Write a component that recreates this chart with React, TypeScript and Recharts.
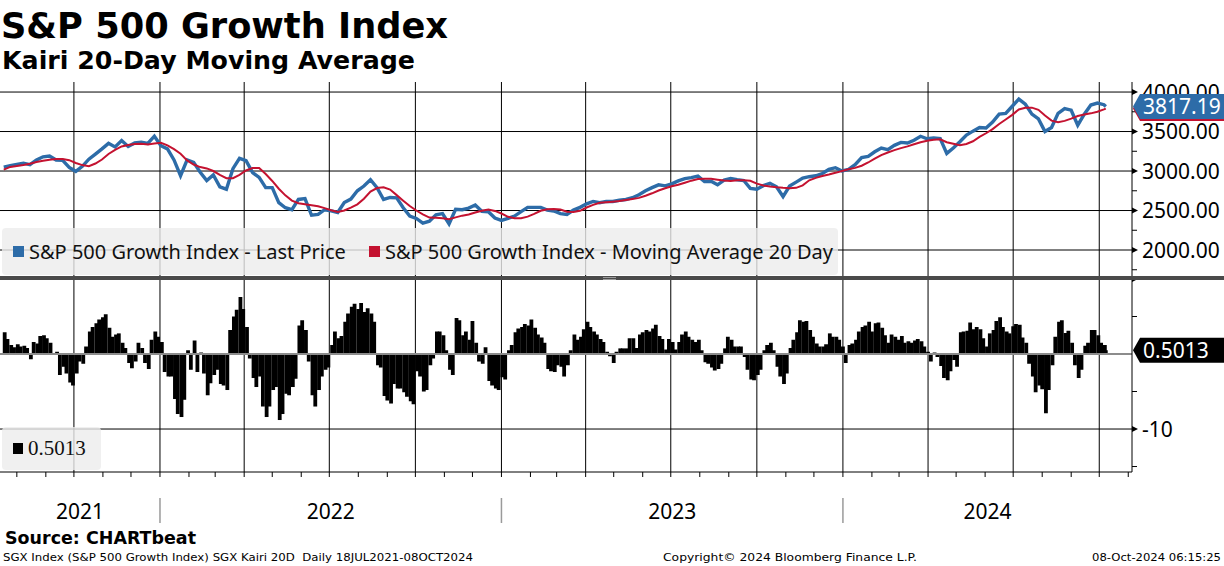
import React from 'react';
import { ComposedChart, Line, Bar, XAxis, YAxis, CartesianGrid, ReferenceLine, Legend } from 'recharts';

// ---------- data ----------
const START = '2021-07-18'; // first weekly sample (Sunday); kairi samples are Mon/Thu
const LAST_DATE = '2024-10-08';
const VIEW_START = '2021-07-14';
const VIEW_END = '2024-11-05';

const PRICE_WEEKLY = [
  3050, 3068, 3085, 3100, 3080, 3140, 3180, 3190, 3140, 3135,
  3045, 2996, 3060, 3150, 3215, 3280, 3350, 3305, 3385, 3310,
  3356, 3365, 3350, 3441, 3320, 3280, 3140, 2940, 3140, 3110,
  2985, 2880, 2950, 2800, 2770, 3030, 3160, 3130, 2980, 2920,
  2790, 2790, 2600, 2535, 2510, 2640, 2650, 2440, 2450, 2510,
  2495, 2475, 2600, 2645, 2750, 2810, 2890, 2790, 2640, 2665,
  2660, 2535, 2430, 2400, 2340, 2365, 2445, 2460, 2330, 2515,
  2510, 2530, 2570, 2490, 2485, 2405, 2375, 2400, 2430, 2485,
  2540, 2540, 2540, 2505, 2494, 2460, 2450, 2505, 2540, 2585,
  2615, 2599, 2615, 2615, 2630, 2640, 2662, 2700, 2750, 2790,
  2825, 2812, 2838, 2875, 2903, 2916, 2935, 2868, 2870, 2825,
  2885, 2905, 2890, 2880, 2780, 2770, 2815, 2845, 2800, 2677,
  2810, 2860, 2910, 2928, 2940, 2968, 3020, 3042, 3000, 3020,
  3080, 3170, 3185, 3244, 3290, 3270, 3325, 3362, 3355, 3390,
  3440, 3408, 3418, 3410, 3223, 3292, 3370, 3455, 3505, 3550,
  3545, 3620, 3720, 3730, 3820, 3910, 3845, 3720, 3660, 3500,
  3550, 3730, 3790, 3770, 3580, 3720, 3835, 3860, 3840,
];

const MA20_WEEKLY = [
  3018, 3052, 3063, 3077, 3093, 3113, 3130, 3144, 3152, 3151,
  3137, 3102, 3075, 3061, 3095, 3146, 3216, 3268, 3311, 3330,
  3341, 3345, 3337, 3348, 3358, 3325, 3277, 3219, 3135, 3082,
  3050, 3033, 3000, 2952, 2910, 2910, 2951, 3007, 3038, 3038,
  2962, 2874, 2776, 2692, 2625, 2592, 2579, 2568, 2554, 2530,
  2504, 2482, 2500, 2537, 2578, 2650, 2740, 2785, 2795, 2765,
  2695, 2625, 2557, 2500, 2452, 2411, 2409, 2403, 2390, 2413,
  2435, 2449, 2475, 2498, 2512, 2495, 2462, 2420, 2403, 2402,
  2423, 2458, 2497, 2516, 2520, 2512, 2484, 2480, 2496, 2538,
  2571, 2599, 2605, 2612, 2620, 2633, 2647, 2660, 2687, 2718,
  2753, 2782, 2808, 2827, 2852, 2878, 2898, 2903, 2901, 2890,
  2880, 2874, 2883, 2884, 2877, 2840, 2816, 2803, 2794, 2787,
  2782, 2787, 2819, 2883, 2913, 2937, 2956, 2977, 3000, 3022,
  3040, 3067, 3108, 3156, 3202, 3235, 3264, 3290, 3312, 3338,
  3365, 3383, 3396, 3401, 3365, 3346, 3328, 3342, 3377, 3431,
  3478, 3530, 3595, 3652, 3711, 3780, 3802, 3802, 3775, 3703,
  3638, 3619, 3635, 3663, 3696, 3716, 3730, 3750, 3780,
];

const LAST_PRICE = 3817.19;
const LAST_MA = 3791;

// Kairi 20D (%) sampled Monday / Thursday
const KAIRI_MON_THU = [
  2.9, 2.0, 1.2, 0.9, 1.3, 1.0, 1.1, 0.8, -0.7, 1.6,
  1.4, 2.4, 2.5, 2.1, 1.5, 0.1, 0.3, -2.8, -1.7, -2.6,
  -3.8, -4.2, -2.6, -1.0, -1.3, 1.0, 3.0, 3.6, 4.1, 4.6,
  4.9, 5.3, 3.5, 2.3, 2.6, 2.75, 1.5, 0.8, -1.2, -1.9,
  -1.0, 1.5, 0.8, -1.2, -2.0, 1.9, 3.0, 2.3, 1.6, -2.4,
  -3.0, -3.0, -6.0, -8.0, -8.4, -6.1, 0.5, -2.1, 1.8, -2.4,
  0.2, -2.6, -5.5, -3.9, -2.8, -2.1, -4.0, -4.2, -4.8, 3.2,
  5.0, 5.9, 7.6, 6.0, 3.6, -0.6, -3.2, -4.4, -3.0, -7.0,
  -8.4, -7.0, -4.8, -4.4, -8.8, -8.0, -5.3, -5.5, -4.4, -3.3,
  3.8, 4.5, 3.2, -1.0, -5.5, -7.0, -4.8, -3.0, -2.1, -1.8,
  1.2, 3.0, 2.1, 2.4, 4.3, 5.4, 6.3, 6.7, 6.0, 6.8,
  5.6, 6.1, 5.4, 4.3, -1.5, -1.8, -5.6, -6.2, -6.6, -4.0,
  -4.6, -4.6, -5.1, -5.7, -6.3, -6.7, -2.3, -3.0, -5.0, -4.8,
  -1.5, -0.6, 3.0, 3.0, 2.5, 0.5, -2.1, -2.8, 4.8, 4.5,
  2.5, 3.0, 1.9, 4.4, 1.5, -1.0, -1.3, 0.9, -3.6, -4.2,
  -4.6, -4.8, -3.1, -3.4, 0.5, 1.2, 2.9, 3.4, 3.6, 4.0,
  3.8, 4.6, 3.5, 2.6, 2.2, 1.5, -2.0, -2.3, -2.4, -1.5,
  -1.7, -3.0, -1.5, 0.5, 2.6, 1.9, 2.3, 3.3, 4.3, 3.6,
  3.0, 2.6, 2.0, 1.6, 0.3, -0.3, -1.2, 0.3, 0.75, 0.75,
  0.75, 2.1, 2.1, 0.8, 2.6, 2.9, 3.2, 3.0, 3.4, 3.9,
  2.4, 2.0, 0.6, 2.0, 1.6, 0.6, 1.6, 2.6, 3.0, 2.3,
  1.9, 1.6, 1.9, 0.5, -1.1, -1.3, -1.8, -2.2, -2.0, -1.3,
  0.75, 2.3, 1.9, 1.0, 1.0, 1.0, -0.4, -2.1, -3.4, -3.5,
  -2.8, -2.1, 0.5, 1.2, 1.5, 0.5, -1.7, -3.0, -4.0, -2.6,
  0.8, 1.9, 2.9, 4.5, 4.3, 4.4, 3.2, 2.3, 1.4, 1.0,
  1.0, 1.3, 2.75, 2.3, 2.3, 1.9, 1.0, -1.2, 1.2, 1.4,
  1.9, 3.0, 3.6, 3.8, 4.3, 3.0, 4.1, 4.2, 3.5, 2.5,
  1.5, 2.6, 2.3, 1.9, 2.4, 1.5, 1.7, 1.5, 1.8, 2.0,
  1.7, 1.0, 0.3, -1.0, 0.2, -0.4, -1.6, -3.2, -3.5, -2.3,
  -0.8, -1.7, 2.9, 3.0, 3.1, 4.2, 3.3, 3.6, 3.3, 2.1,
  1.0, 2.75, 3.2, 4.4, 4.9, 3.6, 3.0, 2.75, 3.7, 4.0,
  3.9, 2.2, 1.5, -1.3, -3.0, -5.1, -4.2, -4.7, -7.9, -4.8,
  -1.5, 2.3, 4.3, 4.5, 2.8, 3.1, 1.5, -1.5, -3.2, -2.1,
  1.1, 1.5, 3.2, 3.2, 2.5, 1.5, 1.2,
];
const LAST_KAIRI = 0.5013;

const QUARTER_DATES = [
  '2021-10-01', '2022-01-01', '2022-04-01', '2022-07-01', '2022-10-01',
  '2023-01-01', '2023-04-01', '2023-07-01', '2023-10-01',
  '2024-01-01', '2024-04-01', '2024-07-01', '2024-10-01',
];
const YEAR_LABELS = ['2021', '2022', '2023', '2024'];
const YEAR_STARTS = ['2022-01-01', '2023-01-01', '2024-01-01'];

const PRICE_MAJOR_TICKS = [2000, 2500, 3000, 3500, 4000];
const PRICE_MINOR_TICKS = [1750, 2250, 2750, 3250, 3750];
const KAIRI_LABEL_TICKS = [-10];
const KAIRI_ARROW_TICKS = [10];
const KAIRI_MINOR_TICKS = [5, -5, -15];

const SERIES_NAMES = [
  'S&P 500 Growth Index - Last Price',
  'S&P 500 Growth Index - Moving Average 20 Day',
];

// ---------- derived ----------
const dayOf = (s: string): number => Math.round((Date.parse(s) - Date.parse(START)) / 86400000);
const X_DOMAIN: [number, number] = [dayOf(VIEW_START), dayOf(VIEW_END)];
const PRICE_DOMAIN: [number, number] = [1671, 4127];
const KAIRI_DOMAIN: [number, number] = [-15.73, 10];

const priceRows = PRICE_WEEKLY.map((p, i) => ({ t: 7 * i, p, m: MA20_WEEKLY[i] }));
priceRows.push({ t: dayOf(LAST_DATE), p: LAST_PRICE, m: LAST_MA });

const kairiRows = KAIRI_MON_THU.map((k, i) => ({ t: 1 + 7 * Math.floor(i / 2) + (i % 2) * 3, k }));
kairiRows.push({ t: dayOf(LAST_DATE), k: LAST_KAIRI });

const QUARTER_DAYS = QUARTER_DATES.map(dayOf);
const MONTH_TICKS: number[] = [];
for (let y = 2021; y <= 2024; y++) {
  for (let m = 1; m <= 12; m++) {
    const d = dayOf(`${y}-${String(m).padStart(2, '0')}-01`);
    if (d > X_DOMAIN[0] && d < X_DOMAIN[1]) MONTH_TICKS.push(d);
  }
}
const SEP_DAYS = YEAR_STARTS.map(dayOf);
const yearBounds = [X_DOMAIN[0], ...SEP_DAYS, X_DOMAIN[1]];
const YEAR_MIDS = YEAR_LABELS.map((_, i) => (yearBounds[i] + yearBounds[i + 1]) / 2);

const BLUE = '#2d6ca8';
const RED = '#c41230';
const AXIS_FONT = 'Noto Sans, DejaVu Sans, sans-serif';

// ---------- tick renderers ----------
const boxPath = (x: number, y: number) =>
  `M${x + 1},${y} L${x + 8},${y - 12.5} L${x + 92},${y - 12.5} L${x + 92},${y + 12.5} L${x + 8},${y + 12.5} Z`;

const ValueBox = ({ x, y, fill, text }: { x: number; y: number; fill: string; text?: string }) => (
  <g>
    <path d={boxPath(x, y)} fill={fill} />
    {text ? (
      <text x={x + 11} y={y + 7.5} fontFamily={AXIS_FONT} fontSize={21} fill="#fff">
        {text}
      </text>
    ) : null}
  </g>
);

const PriceTick = (props: any) => {
  const { x, y, payload } = props;
  const v = payload.value;
  if (v === LAST_PRICE) return <ValueBox x={x} y={y} fill={BLUE} text={v.toFixed(2)} />;
  if (v === LAST_MA) return <ValueBox x={x} y={y} fill={RED} />;
  if (PRICE_MAJOR_TICKS.includes(v)) {
    return (
      <g>
        <polygon points={`${x},${y - 3} ${x + 6},${y} ${x},${y + 3}`} fill="#000" />
        <text x={x + 10} y={y + 7.5} fontFamily={AXIS_FONT} fontSize={21} fill="#000">
          {v.toFixed(2)}
        </text>
      </g>
    );
  }
  return <line x1={x} x2={x + 5} y1={y} y2={y} stroke="#000" strokeWidth={1} />;
};

const KairiTick = (props: any) => {
  const { x, y, payload } = props;
  const v = payload.value;
  if (v === LAST_KAIRI) return <ValueBox x={x} y={y} fill="#000" text={String(v)} />;
  if (KAIRI_LABEL_TICKS.includes(v)) {
    return (
      <g>
        <polygon points={`${x},${y - 3} ${x + 6},${y} ${x},${y + 3}`} fill="#000" />
        <text x={x + 10} y={y + 7.5} fontFamily={AXIS_FONT} fontSize={21} fill="#000">
          {String(v)}
        </text>
      </g>
    );
  }
  if (KAIRI_ARROW_TICKS.includes(v)) {
    return <polygon points={`${x},${y - 3} ${x + 6},${y} ${x},${y + 3}`} fill="#000" />;
  }
  return <line x1={x} x2={x + 5} y1={y} y2={y} stroke="#000" strokeWidth={1} />;
};

const EmptyTick = () => <g />;

const YearTick = (props: any) => {
  const { x, y, payload } = props;
  const idx = YEAR_MIDS.indexOf(payload.value);
  if (idx >= 0) {
    return (
      <text x={x} y={y + 42} textAnchor="middle" fontFamily={AXIS_FONT} fontSize={21} fill="#000">
        {YEAR_LABELS[idx]}
      </text>
    );
  }
  return <line x1={x} x2={x} y1={y + 21} y2={y + 46} stroke="#9a9a9a" strokeWidth={1.5} />;
};

// daily-looking bar: fixed width centred on the library's bar position
const KairiBar = (props: any) => {
  const { x, y, width, height, fill } = props;
  if (x == null || y == null || height == null) return <g />;
  const cx = x + (width || 0) / 2;
  const top = Math.min(y, y + height);
  const h = Math.abs(height);
  return <rect x={cx - 1.9} y={top} width={3.8} height={h} fill={fill} />;
};

// ---------- legends ----------
const PriceLegend = (props: any) => {
  const payload = props.payload || [];
  return (
    <div
      style={{
        width: 836,
        height: 47,
        background: 'rgba(236,236,236,0.8)',
        borderRadius: 4,
        display: 'flex',
        alignItems: 'center',
        paddingLeft: 11,
        boxSizing: 'border-box',
        fontFamily: AXIS_FONT,
        fontSize: 20,
        color: '#111',
        whiteSpace: 'nowrap',
      }}
    >
      {payload.map((e: any, i: number) => (
        <span key={i} style={{ display: 'flex', alignItems: 'center', marginRight: 23 }}>
          <span style={{ display: 'inline-block', width: 11, height: 11, background: e.color, marginRight: 5 }} />
          {e.value}
        </span>
      ))}
    </div>
  );
};

const KairiLegend = (props: any) => {
  const payload = props.payload || [];
  return (
    <div
      style={{
        width: 99,
        height: 43,
        background: 'rgba(236,236,236,0.8)',
        borderRadius: 4,
        display: 'flex',
        alignItems: 'center',
        paddingLeft: 11,
        boxSizing: 'border-box',
        fontFamily: 'Liberation Serif, serif',
        fontSize: 21,
        color: '#111',
      }}
    >
      {payload.map((e: any, i: number) => (
        <span key={i} style={{ display: 'flex', alignItems: 'center' }}>
          <span style={{ display: 'inline-block', width: 10, height: 11, background: e.color, marginRight: 5 }} />
          {e.value}
        </span>
      ))}
    </div>
  );
};

export default function App() {
  return (
    <div
      style={{
        position: 'absolute',
        left: 0,
        top: 0,
        width: 1224,
        height: 566,
        background: '#fff',
        overflow: 'hidden',
        fontFamily: AXIS_FONT,
      }}
    >
      <svg width={1224} height={566} style={{ position: 'absolute', left: 0, top: 0 }}>
        <text x={1} y={38} fontFamily="DejaVu Sans" fontWeight="bold" fontSize={36} textLength={447} lengthAdjust="spacingAndGlyphs" fill="#000">
          {'S&P 500 Growth Index'}
        </text>
        <text x={2} y={69} fontFamily="DejaVu Sans" fontWeight="bold" fontSize={25} textLength={413} lengthAdjust="spacingAndGlyphs" fill="#000">
          Kairi 20-Day Moving Average
        </text>
        <text x={5} y={544} fontFamily="DejaVu Sans" fontWeight="bold" fontSize={17.5} textLength={191} lengthAdjust="spacingAndGlyphs" fill="#000">
          Source: CHARTbeat
        </text>
        <text x={3} y={561} fontFamily="DejaVu Sans" fontSize={11} textLength={470} lengthAdjust="spacingAndGlyphs" fill="#000" style={{ whiteSpace: 'pre' }}>
          {'SGX Index (S&P 500 Growth Index) SGX Kairi 20D  Daily 18JUL2021-08OCT2024'}
        </text>
        <text x={663} y={561} fontFamily="DejaVu Sans" fontSize={11} textLength={254} lengthAdjust="spacingAndGlyphs" fill="#000">
          {'Copyright\u00A9 2024 Bloomberg Finance L.P.'}
        </text>
        <text x={1092} y={561} fontFamily="DejaVu Sans" fontSize={11} textLength={129} lengthAdjust="spacingAndGlyphs" fill="#000">
          08-Oct-2024 06:15:25
        </text>
      </svg>

      <div style={{ position: 'absolute', left: 0, top: 82 }}>
        <ComposedChart width={1224} height={194} data={priceRows} margin={{ top: 0, right: 0, bottom: 0, left: 0 }}>
          <CartesianGrid stroke="#000" strokeWidth={1} horizontalValues={PRICE_MAJOR_TICKS} verticalValues={QUARTER_DAYS} />
          <XAxis dataKey="t" type="number" domain={X_DOMAIN} allowDataOverflow hide />
          <YAxis
            orientation="right"
            width={92}
            type="number"
            domain={PRICE_DOMAIN}
            allowDataOverflow
            ticks={[...PRICE_MINOR_TICKS, ...PRICE_MAJOR_TICKS, LAST_MA, LAST_PRICE]}
            interval={0}
            tickSize={0}
            tickMargin={0}
            tickLine={false}
            axisLine={{ stroke: '#000' }}
            tick={PriceTick}
          />
          <Line type="linear" dataKey="p" name={SERIES_NAMES[0]} stroke={BLUE} strokeWidth={3.4} dot={false} isAnimationActive={false} />
          <Line type="linear" dataKey="m" name={SERIES_NAMES[1]} stroke={RED} strokeWidth={2} dot={false} isAnimationActive={false} />
          <Legend
            layout="horizontal"
            verticalAlign="middle"
            align="center"
            content={PriceLegend}
            wrapperStyle={{ left: 2, top: 146, width: 836, height: 47 }}
          />
        </ComposedChart>
      </div>

      <div style={{ position: 'absolute', left: 0, top: 279 }}>
        <ComposedChart width={1224} height={287} data={kairiRows} margin={{ top: 0, right: 0, bottom: 0, left: 0 }} barGap={0} barCategoryGap={0}>
          <CartesianGrid stroke="#000" strokeWidth={1} horizontalValues={[-10]} verticalValues={QUARTER_DAYS} />
          <XAxis
            dataKey="t"
            type="number"
            domain={X_DOMAIN}
            allowDataOverflow
            ticks={MONTH_TICKS}
            interval={0}
            tickSize={5}
            height={5}
            axisLine={{ stroke: '#000' }}
            tickLine={{ stroke: '#000' }}
            tick={EmptyTick}
          />
          <XAxis
            xAxisId="yr"
            dataKey="t"
            type="number"
            domain={X_DOMAIN}
            allowDataOverflow
            ticks={[...YEAR_MIDS, ...SEP_DAYS]}
            interval={0}
            tickSize={0}
            tickMargin={0}
            height={89}
            axisLine={false}
            tickLine={false}
            tick={YearTick}
          />
          <YAxis
            orientation="right"
            width={92}
            type="number"
            domain={KAIRI_DOMAIN}
            allowDataOverflow
            ticks={[...KAIRI_ARROW_TICKS, ...KAIRI_MINOR_TICKS, ...KAIRI_LABEL_TICKS, LAST_KAIRI]}
            interval={0}
            tickSize={0}
            tickMargin={0}
            tickLine={false}
            axisLine={{ stroke: '#000' }}
            tick={KairiTick}
          />
          <Bar dataKey="k" name={String(LAST_KAIRI)} fill="#000" shape={KairiBar} isAnimationActive={false} />
          <ReferenceLine y={0} stroke="#8c8c8c" strokeWidth={2} />
          <Legend
            layout="horizontal"
            verticalAlign="middle"
            align="center"
            content={KairiLegend}
            wrapperStyle={{ left: 2, top: 148, width: 99, height: 43 }}
          />
        </ComposedChart>
      </div>

      <div style={{ position: 'absolute', left: 0, top: 276, width: 1224, height: 4, background: '#4a4a4a' }} />
      <div style={{ position: 'absolute', left: 603, top: 277, width: 13, height: 1, background: '#9a9a9a' }} />
      <div style={{ position: 'absolute', left: 603, top: 279, width: 13, height: 1, background: '#9a9a9a' }} />
    </div>
  );
}
